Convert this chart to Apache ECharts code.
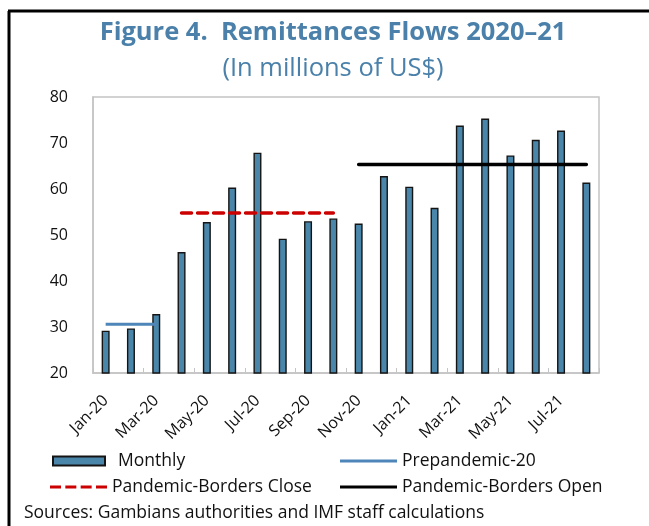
<!DOCTYPE html>
<html>
<head>
<meta charset="utf-8">
<script src="https://cdn.jsdelivr.net/npm/echarts@6/dist/echarts.min.js"></script>
<style>
  html, body { margin: 0; padding: 0; background: #fff; overflow: hidden; }
  #chart { width: 649px; height: 526px; }
</style>
</head>
<body>
<div id="chart"></div>
<script>
// Monthly remittance inflows, millions of US$
const months = ['Jan-20','Feb-20','Mar-20','Apr-20','May-20','Jun-20','Jul-20','Aug-20','Sep-20','Oct-20',
                'Nov-20','Dec-20','Jan-21','Feb-21','Mar-21','Apr-21','May-21','Jun-21','Jul-21','Aug-21'];
const monthly = [29.2, 29.7, 32.8, 46.3, 52.8, 60.3, 67.9, 49.2, 53.0, 53.6,
                 52.5, 62.8, 60.5, 55.9, 73.8, 75.3, 67.3, 70.7, 72.7, 61.4];
// Period averages, drawn over the months they cover
const prepandemic = [30.6, 30.6, 30.6, null, null, null, null, null, null, null,
                     null, null, null, null, null, null, null, null, null, null];
const bordersClose = [null, null, null, 54.8, 54.8, 54.8, 54.8, 54.8, 54.8, 54.8,
                      null, null, null, null, null, null, null, null, null, null];
const bordersOpen = [null, null, null, null, null, null, null, null, null, null,
                     65.3, 65.3, 65.3, 65.3, 65.3, 65.3, 65.3, 65.3, 65.3, 65.3];
const yTicks = { min: 20, max: 80, interval: 10 };

const FONT = '"Open Sans", "Noto Sans", sans-serif';
const TITLE_BLUE = '#4a80a9';

// legend glyphs: solid stroke and four-dash stroke
const SOLID_ICON = 'path://M0,0h171v9h-171z';
const DASH_ICON = 'path://M0,0h33v9h-33z M46,0h33v9h-33z M92,0h33v9h-33z M138,0h33v9h-33z';

const chart = echarts.init(document.getElementById('chart'), null, { renderer: 'canvas' });

const legendText = { fontFamily: FONT, fontSize: 17.5, color: '#111' };
const lineLegend = {
  orient: 'horizontal',
  itemWidth: 57,
  itemHeight: 3,
  textStyle: legendText,
  selectedMode: false
};

chart.setOption({
  animation: false,
  backgroundColor: '#fff',
  title: [
    {
      text: 'Figure 4.  Remittances Flows 2020\u201321',
      left: 328, top: 15, textAlign: 'center',
      textStyle: { fontFamily: FONT, fontSize: 25.5, fontWeight: 'bold', color: TITLE_BLUE }
    },
    {
      text: '(In millions of US$)',
      left: 328, top: 51, textAlign: 'center',
      textStyle: { fontFamily: FONT, fontSize: 25.5, fontWeight: 'normal', color: TITLE_BLUE }
    },
    {
      text: 'Sources: Gambians authorities and IMF staff calculations',
      left: 19, top: 499,
      textStyle: { fontFamily: FONT, fontSize: 17.5, fontWeight: 'normal', color: '#111' }
    }
  ],
  grid: {
    left: 93, right: 50, top: 97, bottom: 153,
    show: true, borderColor: '#c4c4c4', borderWidth: 1.5, backgroundColor: 'transparent'
  },
  legend: [
    {
      orient: 'horizontal', left: 47, top: 447, itemWidth: 52, itemHeight: 9,
      selectedMode: false,
      textStyle: Object.assign({}, legendText, { padding: [0, 0, 0, 8] }),
      data: [{ name: 'Monthly', icon: 'rect' }]
    },
    Object.assign({}, lineLegend, { left: 335, top: 447, data: [{ name: 'Prepandemic-20', icon: SOLID_ICON }] }),
    Object.assign({}, lineLegend, { left: 45, top: 473, data: [{ name: 'Pandemic-Borders Close', icon: DASH_ICON }] }),
    Object.assign({}, lineLegend, { left: 335, top: 473, data: [{ name: 'Pandemic-Borders Open', icon: SOLID_ICON }] })
  ],
  xAxis: {
    type: 'category',
    data: months,
    boundaryGap: true,
    axisLine: { show: true, lineStyle: { color: '#c4c4c4', width: 1.5 } },
    axisTick: { show: true, inside: true, length: 5, interval: 1, lineStyle: { color: '#c4c4c4' } },
    axisLabel: {
      interval: 1, rotate: 45, margin: 25,
      fontFamily: FONT, fontSize: 16, color: '#111'
    },
    splitLine: { show: false }
  },
  yAxis: {
    type: 'value',
    min: yTicks.min, max: yTicks.max, interval: yTicks.interval,
    axisLine: { show: true, lineStyle: { color: '#c4c4c4', width: 1.5 } },
    axisTick: { show: false },
    axisLabel: { margin: 25, fontFamily: FONT, fontSize: 16, color: '#111' },
    splitLine: { show: false }
  },
  series: [
    {
      name: 'Monthly',
      type: 'bar',
      data: monthly,
      barWidth: 8,
      itemStyle: { color: '#4a86aa', borderColor: '#141414', borderWidth: 1.4 },
      z: 2
    },
    {
      name: 'Prepandemic-20',
      type: 'line',
      data: prepandemic,
      symbol: 'none',
      lineStyle: { color: '#4f86b9', width: 3 },
      itemStyle: { color: '#4f86b9' },
      z: 3
    },
    {
      name: 'Pandemic-Borders Close',
      type: 'line',
      data: bordersClose,
      symbol: 'none',
      lineStyle: { color: '#cc0000', width: 3.5, type: [10, 6], cap: 'round' },
      itemStyle: { color: '#cc0000' },
      z: 3
    },
    {
      name: 'Pandemic-Borders Open',
      type: 'line',
      data: bordersOpen,
      symbol: 'none',
      lineStyle: { color: '#000', width: 3.5, cap: 'round' },
      itemStyle: { color: '#000' },
      z: 3
    }
  ],
  graphic: [
    {
      type: 'line',
      shape: { x1: 9, y1: 11, x2: 9, y2: 526 },
      style: { stroke: '#000', lineWidth: 3 },
      silent: true
    },
    {
      type: 'line',
      shape: { x1: 8, y1: 11, x2: 649, y2: 11 },
      style: { stroke: '#000', lineWidth: 3 },
      silent: true
    }
  ]
});
</script>
</body>
</html>
